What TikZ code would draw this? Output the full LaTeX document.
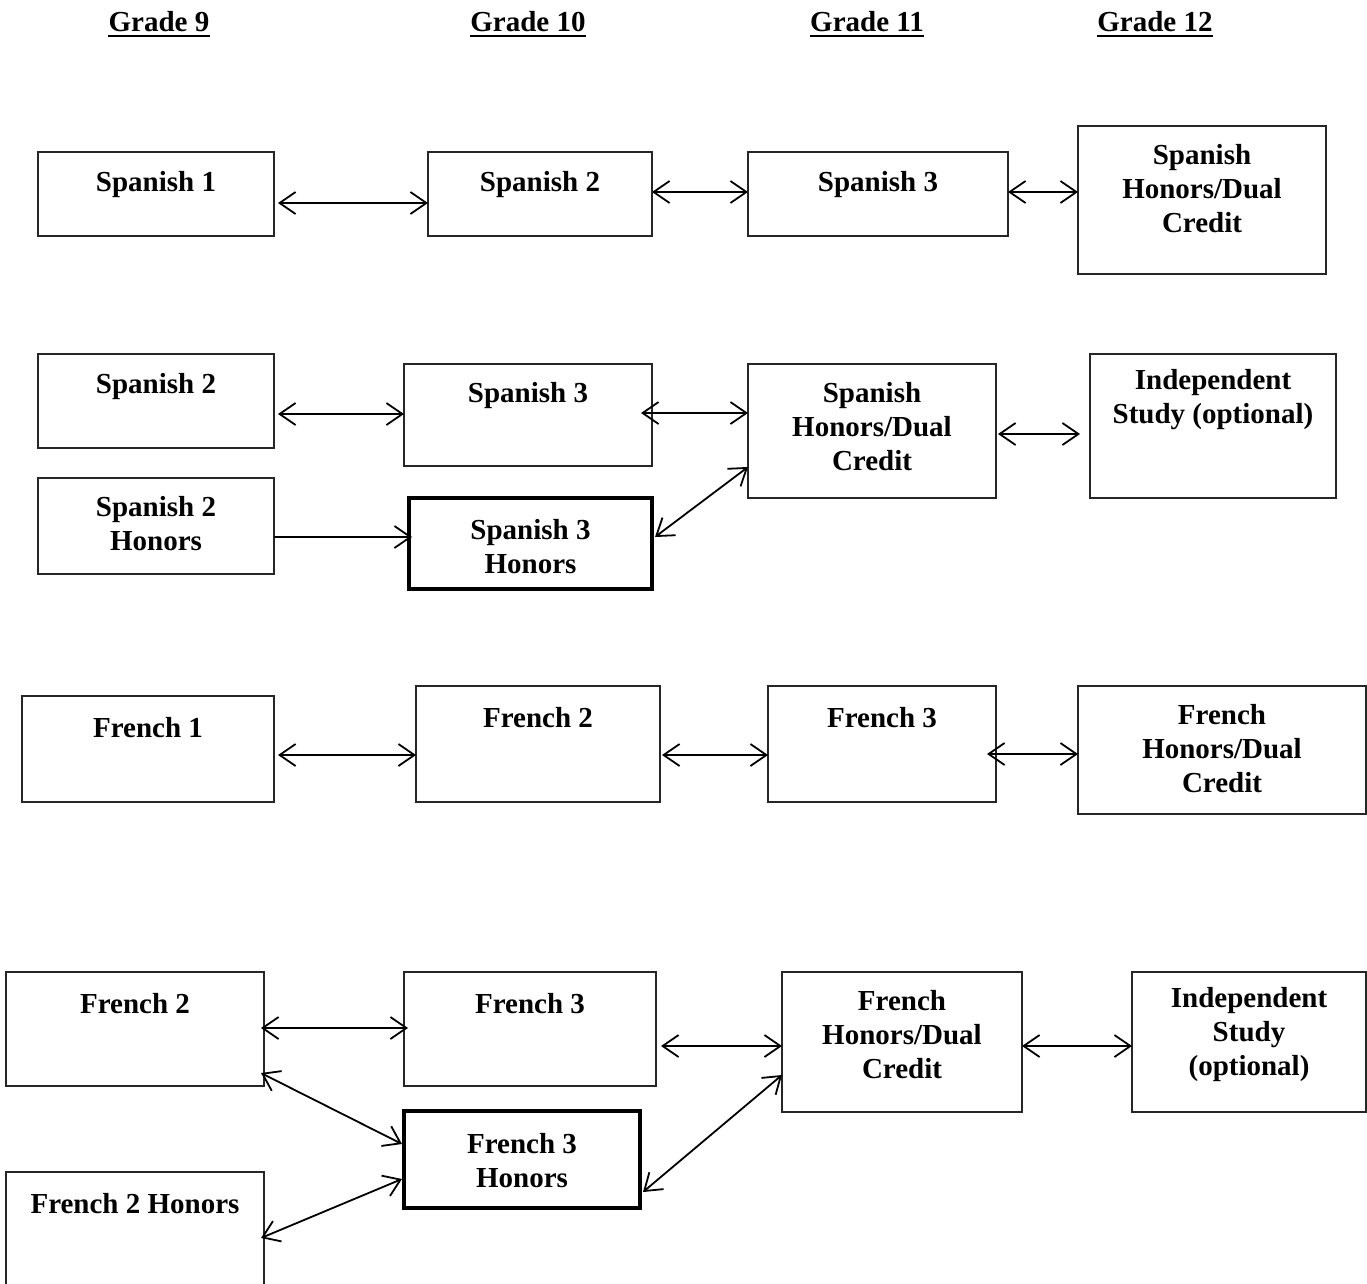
\documentclass[tikz,border=0pt]{standalone}
\usepackage{fontspec}
\setmainfont{Liberation Serif}
\usetikzlibrary{arrows.meta}
\newcommand\crs[8]{%
  \node[#8, minimum width={#4-#2}, minimum height={#5-#3}] (#1) at (#2,#3) {};
  \node[lbl] at ({(#2+#4)/2},{#6+3}) {#7};}
\begin{document}
\begin{tikzpicture}[x=1pt,y=-1pt,
  crsbox/.style={draw=black!85, line width=1.3pt, inner sep=0, outer sep=0, anchor=north west},
  thickbox/.style={crsbox, draw=black, line width=4pt},
  lbl/.style={font=\bfseries\fontsize{29}{34}\selectfont, align=center, inner sep=0},
  hdr/.style={font=\bfseries\fontsize{29}{34}\selectfont, inner sep=0, anchor=base},
  bi/.style={line width=1.8pt, {Straight Barb[length=16pt,width=22pt]}-{Straight Barb[length=16pt,width=22pt]}},
  one/.style={line width=1.8pt, -{Straight Barb[length=16pt,width=22pt]}}]
\clip (0,0) rectangle (1367,1283);
\fill[white] (0,0) rectangle (1367,1283);
% headers
\node[hdr] (h9) at (159,31.5) {Grade 9};
\node[hdr] (h10) at (528,31.5) {Grade 10};
\node[hdr] (h11) at (867,31.5) {Grade 11};
\node[hdr] (h12) at (1155,31.5) {Grade 12};
\foreach \h in {h9,h10,h11,h12}
  \draw[line width=2.2pt] ([yshift=-4.5pt]\h.base west) -- ([yshift=-4.5pt]\h.base east);
% row 1
\crs{s1a}{38}{152}{274}{236}{182}{Spanish 1}{crsbox}
\crs{s2a}{428}{152}{652}{236}{182}{Spanish 2}{crsbox}
\crs{s3a}{748}{152}{1008}{236}{182}{Spanish 3}{crsbox}
\crs{sha}{1078}{126}{1326}{274}{186}{Spanish\\Honors/Dual\\Credit}{crsbox}
\draw[bi] ([xshift=4pt,yshift=-9pt]s1a.east) -- ([yshift=-9pt]s2a.west);
\draw[bi] ([yshift=2pt]s2a.east) -- ([yshift=2pt]s3a.west);
\draw[bi] ([yshift=2pt]s3a.east) -- ([yshift=8pt]sha.west);
% row 2
\crs{s2b}{38}{354}{274}{448}{384}{Spanish 2}{crsbox}
\crs{s3b}{404}{364}{652}{466}{393}{Spanish 3}{crsbox}
\crs{shb}{748}{364}{996}{498}{424}{Spanish\\Honors/Dual\\Credit}{crsbox}
\crs{isb}{1090}{354}{1336}{498}{397}{Independent\\Study (optional)}{crsbox}
\crs{s2hb}{38}{478}{274}{574}{521}{Spanish 2\\Honors}{crsbox}
\crs{s3hb}{409}{498}{652}{589}{544}{Spanish 3\\Honors}{thickbox}
\draw[bi] ([xshift=4pt,yshift=-13pt]s2b.east) -- ([yshift=1pt]s3b.west);
\draw[bi] ([xshift=-11pt,yshift=2pt]s3b.east) -- ([yshift=18pt]shb.west);
\draw[bi] ([xshift=2pt,yshift=-3pt]shb.east) -- ([xshift=-10pt,yshift=-8pt]isb.west);
\draw[one] ([yshift=-11pt]s2hb.east) -- ([xshift=3pt,yshift=6.5pt]s3hb.west);
\draw[bi] ([xshift=3pt,yshift=6.5pt]s3hb.east) -- ([yshift=-36pt]shb.west);
% row 3
\crs{f1c}{22}{696}{274}{802}{725}{French 1}{crsbox}
\crs{f2c}{416}{686}{660}{802}{715}{French 2}{crsbox}
\crs{f3c}{768}{686}{996}{802}{715}{French 3}{crsbox}
\crs{fhc}{1078}{686}{1366}{814}{746}{French\\Honors/Dual\\Credit}{crsbox}
\draw[bi] ([xshift=4pt,yshift=-6pt]f1c.east) -- ([yshift=-11pt]f2c.west);
\draw[bi] ([xshift=2pt,yshift=-11pt]f2c.east) -- ([yshift=-11pt]f3c.west);
\draw[bi] ([xshift=-9pt,yshift=-10pt]f3c.east) -- ([yshift=-4pt]fhc.west);
% row 4
\crs{f2d}{6}{972}{264}{1086}{1001}{French 2}{crsbox}
\crs{f3d}{404}{972}{656}{1086}{1001}{French 3}{crsbox}
\crs{fhd}{782}{972}{1022}{1112}{1032}{French\\Honors/Dual\\Credit}{crsbox}
\crs{isd}{1132}{972}{1366}{1112}{1032}{Independent\\Study\\(optional)}{crsbox}
\crs{f3hd}{404}{1111}{640}{1208}{1158}{French 3\\Honors}{thickbox}
\crs{f2hd}{6}{1172}{264}{1300}{1201}{French 2 Honors}{crsbox}
\draw[bi] ([xshift=-3pt,yshift=1pt]f2d.east) -- ([xshift=4pt,yshift=1pt]f3d.west);
\draw[bi] ([xshift=5pt,yshift=-17pt]f3d.east) -- ([yshift=-4pt]fhd.west);
\draw[bi] ([yshift=-4pt]fhd.east) -- ([yshift=-4pt]isd.west);
\draw[bi] ([xshift=-3pt,yshift=-44pt]f2d.east) -- ([xshift=-2pt,yshift=15.5pt]f3hd.west);
\draw[bi] ([xshift=-3pt,yshift=-2pt]f2hd.east) -- ([xshift=-2pt,yshift=-19.5pt]f3hd.west);
\draw[bi] ([xshift=3pt,yshift=-32.5pt]f3hd.east) -- ([yshift=-33pt]fhd.west);
\end{tikzpicture}
\end{document}
